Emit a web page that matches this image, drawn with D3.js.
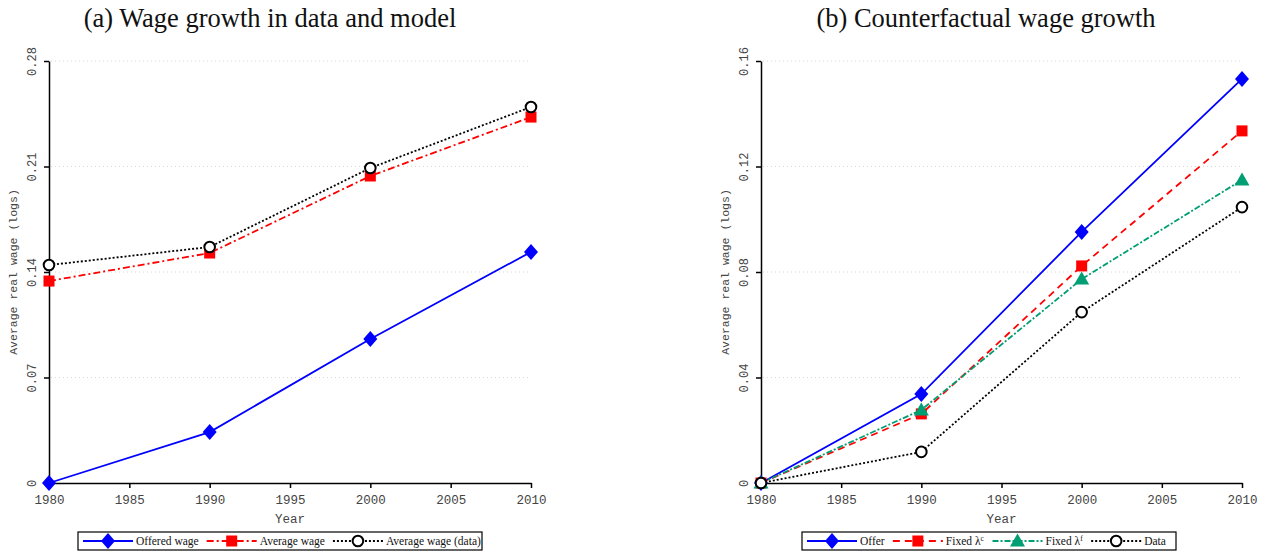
<!DOCTYPE html>
<html><head><meta charset="utf-8">
<script src="https://cdn.jsdelivr.net/npm/d3@7"></script>
<style>body{margin:0;background:#fff;} svg{display:block;}</style>
</head><body>
<svg id="c" width="1261" height="555"></svg>
<script>
const years = [1980, 1990, 2000, 2010];
// Panel (a)
const offeredWage = [0, 0.0338, 0.0955, 0.1533];
const averageWage = [0.134, 0.1526, 0.2037, 0.2428];
const averageWageData = [0.1446, 0.1566, 0.209, 0.2495];
const ticksA = [0, 0.07, 0.14, 0.21, 0.28];
const tickLabelsA = ["0", "0.07", "0.14", "0.21", "0.28"];
// Panel (b)
const offer = [0, 0.0337, 0.0952, 0.1532];
const fixedLc = [0, 0.0262, 0.0823, 0.1335];
const fixedLf = [0, 0.0277, 0.0773, 0.1149];
const dataB = [0, 0.0118, 0.0648, 0.1046];
const ticksB = [0, 0.04, 0.08, 0.12, 0.16];
const tickLabelsB = ["0", "0.04", "0.08", "0.12", "0.16"];
const xTicks = [1980, 1985, 1990, 1995, 2000, 2005, 2010];

const svg = d3.select("#c");
const mono = "'Liberation Mono', 'DejaVu Sans Mono', monospace";
const serif = "'Liberation Serif', 'DejaVu Serif', serif";

function drawMarker(g, type, x, y, color) {
  if (type === "diamond") {
    g.append("path").attr("d", `M${x},${y-8}L${x+7},${y}L${x},${y+8}L${x-7},${y}Z`).attr("fill", color);
  } else if (type === "square") {
    g.append("rect").attr("x", x-5.5).attr("y", y-5.5).attr("width", 11).attr("height", 11).attr("fill", color);
  } else if (type === "triangle") {
    g.append("path").attr("d", `M${x},${y-7.5}L${x+7.5},${y+5.5}L${x-7.5},${y+5.5}Z`).attr("fill", color);
  } else if (type === "circle") {
    g.append("circle").attr("cx", x).attr("cy", y).attr("r", 5.3).attr("fill", "#fff").attr("stroke", "#000").attr("stroke-width", 2);
  }
}

function panel(opts) {
  const g = svg.append("g");
  const x = d3.scaleLinear().domain([1980, 2010]).range([opts.x0, opts.x1]);
  const y = d3.scaleLinear().domain([0, opts.ymax]).range([483, 61]);
  g.selectAll(".grid").data(opts.ticks.slice(1)).enter().append("line")
    .attr("x1", opts.x0 + 2).attr("x2", opts.x1).attr("y1", d => y(d)).attr("y2", d => y(d))
    .attr("stroke", "#d8d8d8").attr("stroke-width", 1).attr("stroke-dasharray", "1,3");
  const ya = g.append("g").attr("transform", `translate(${opts.x0},0)`)
    .call(d3.axisLeft(y).tickValues(opts.ticks).tickFormat((d,i)=>opts.labels[i]).tickSize(5).tickSizeOuter(0));
  ya.select(".domain").attr("stroke-width", 1.5);
  ya.selectAll(".tick line").attr("stroke-width", 1.5);
  ya.selectAll(".tick text").attr("font-family", mono).attr("font-size", 12).attr("fill", "#444")
    .attr("transform", "rotate(-90)").attr("text-anchor", "middle").attr("x", 0).attr("y", -13).attr("dy", 0);
  const xa = g.append("g").attr("transform", `translate(0,483)`)
    .call(d3.axisBottom(x).tickValues(xTicks).tickFormat(d3.format("d")).tickSize(5).tickSizeOuter(0));
  xa.select(".domain").attr("stroke-width", 1.5);
  xa.selectAll(".tick line").attr("stroke-width", 1.5);
  xa.selectAll(".tick text").attr("font-family", mono).attr("font-size", 12.5).attr("fill", "#444").attr("dy", "1.0em");
  g.append("text").attr("x", (opts.x0 + opts.x1)/2).attr("y", 523).attr("text-anchor", "middle")
    .attr("font-family", mono).attr("font-size", 12.5).attr("fill", "#444").text("Year");
  g.append("text").attr("transform", `translate(${opts.x0 - 32},272) rotate(-90)`).attr("text-anchor", "middle")
    .attr("font-family", mono).attr("font-size", 11.5).attr("fill", "#444").text("Average real wage (logs)");
  g.append("text").attr("x", opts.titleX).attr("y", 27).attr("text-anchor", "middle")
    .attr("font-family", serif).attr("font-size", 26.5).attr("fill", "#111").text(opts.title);
  const line = d3.line().x((d,i) => x(years[i])).y(d => y(d));
  opts.series.forEach(s => {
    g.append("path").datum(s.values).attr("d", line).attr("fill", "none")
      .attr("stroke", s.color).attr("stroke-width", 1.8).attr("stroke-dasharray", s.dash);
  });
  opts.series.forEach(s => {
    s.values.forEach((v,i) => drawMarker(g, s.marker, x(years[i]), y(v), s.color));
  });
  const lg = g.append("g");
  lg.append("rect").attr("x", opts.lx).attr("y", 532).attr("width", opts.lw).attr("height", 18)
    .attr("fill", "#fff").attr("stroke", "#000").attr("stroke-width", 1.2);
  let cx = opts.lx + 5;
  opts.series.forEach(s => {
    const ly = 541;
    lg.append("line").attr("x1", cx).attr("x2", cx + 50).attr("y1", ly).attr("y2", ly)
      .attr("stroke", s.color).attr("stroke-width", 1.8).attr("stroke-dasharray", s.dash);
    drawMarker(lg, s.marker, cx + 25, ly, s.color);
    const t = lg.append("text").attr("x", cx + 53).attr("y", ly + 4).attr("font-family", serif).attr("font-size", 11.5).attr("fill", "#111");
    if (s.sup) {
      t.append("tspan").text(s.label);
      t.append("tspan").attr("font-size", 7.5).attr("dy", -4).text(s.sup);
    } else t.text(s.label);
    const w = t.node().getBBox().width;
    cx += 53 + w + 8;
  });
}

panel({x0: 49, x1: 531, ymax: 0.28, ticks: ticksA, labels: tickLabelsA,
  title: "(a) Wage growth in data and model", titleX: 270, lx: 78, lw: 404,
  series: [
    {values: offeredWage, color: "#0000ff", dash: null, marker: "diamond", label: "Offered wage"},
    {values: averageWage, color: "#ff0000", dash: "7,3,2,3", marker: "square", label: "Average wage"},
    {values: averageWageData, color: "#000", dash: "2,2", marker: "circle", label: "Average wage (data)"}
  ]});
panel({x0: 761, x1: 1242, ymax: 0.16, ticks: ticksB, labels: tickLabelsB,
  title: "(b) Counterfactual wage growth", titleX: 986, lx: 802, lw: 374,
  series: [
    {values: offer, color: "#0000ff", dash: null, marker: "diamond", label: "Offer"},
    {values: fixedLc, color: "#ff0000", dash: "7,5", marker: "square", label: "Fixed λ", sup: "c"},
    {values: fixedLf, color: "#009e73", dash: "6,2,2,2", marker: "triangle", label: "Fixed λ", sup: "f"},
    {values: dataB, color: "#000", dash: "2,2", marker: "circle", label: "Data"}
  ]});
</script>
</body></html>
